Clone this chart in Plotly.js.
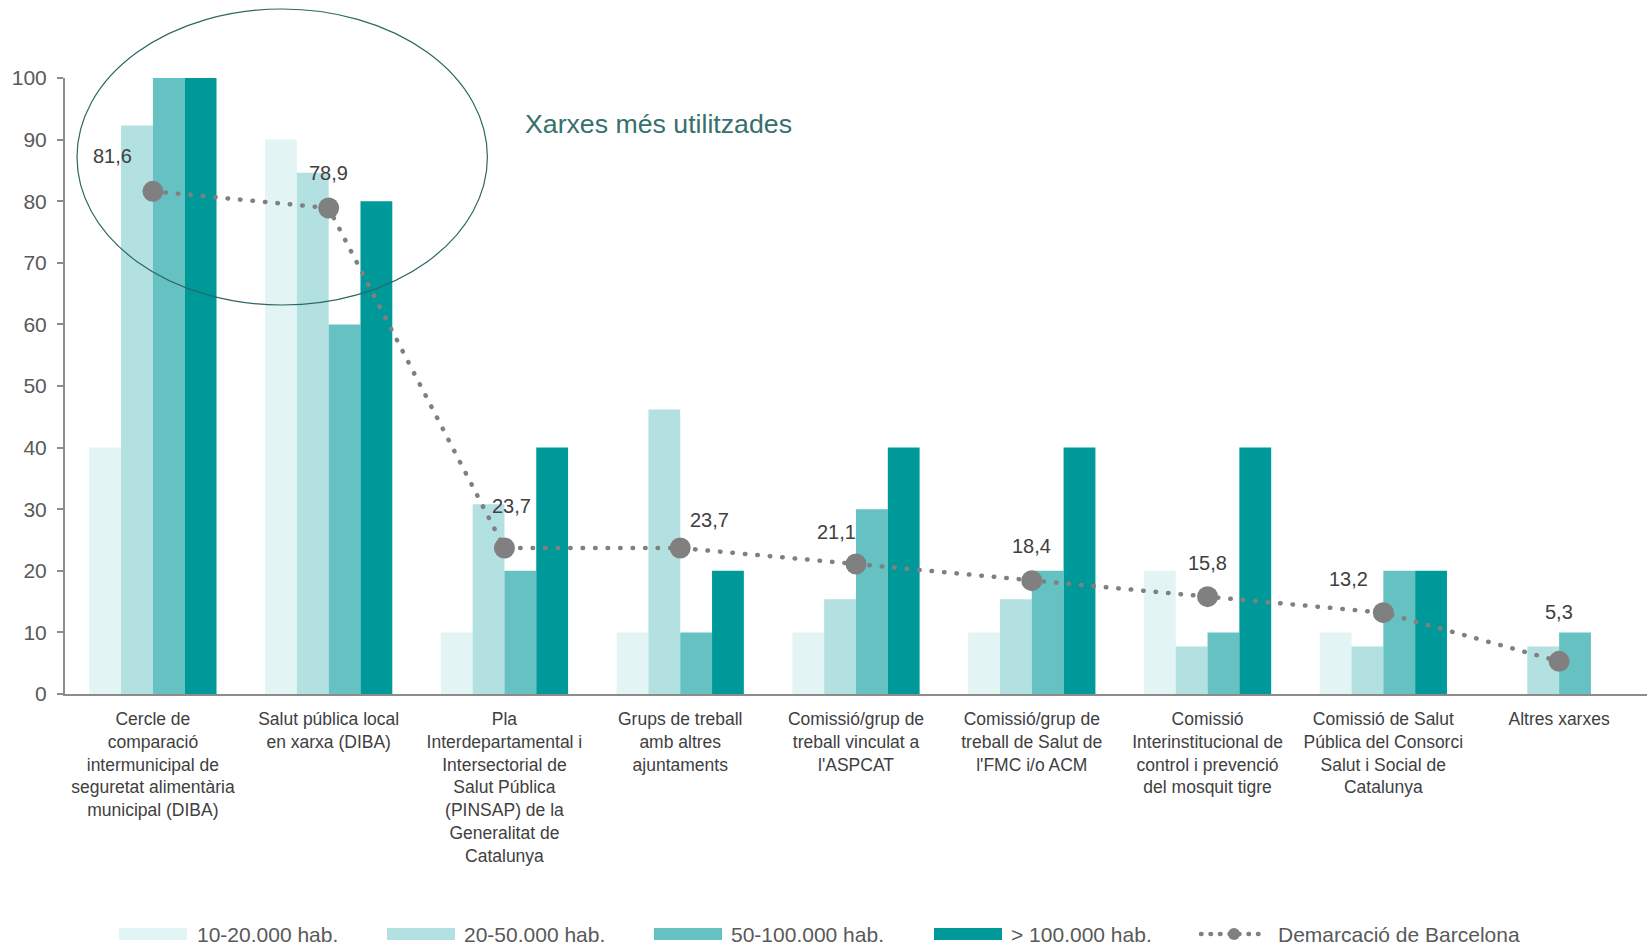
<!DOCTYPE html>
<html>
<head>
<meta charset="utf-8">
<script src="https://cdn.plot.ly/plotly-3.0.1.min.js"></script>
<style>
  html, body { margin: 0; padding: 0; background: #fff; }
  #chart { width: 1649px; height: 945px; }
  .scatterlayer .js-line { stroke-linecap: round; }
</style>
</head>
<body>
<div id="chart"></div>
<script>
// ---------------- DATA ----------------
const categories = [
  "Cercle de comparació intermunicipal de seguretat alimentària municipal (DIBA)",
  "Salut pública local en xarxa (DIBA)",
  "Pla Interdepartamental i Intersectorial de Salut Pública (PINSAP) de la Generalitat de Catalunya",
  "Grups de treball amb altres ajuntaments",
  "Comissió/grup de treball vinculat a l'ASPCAT",
  "Comissió/grup de treball de Salut de l'FMC i/o ACM",
  "Comissió Interinstitucional de control i prevenció del mosquit tigre",
  "Comissió de Salut Pública del Consorci Salut i Social de Catalunya",
  "Altres xarxes"
];
const tickLabels = [
  "Cercle de<br>comparació<br>intermunicipal de<br>seguretat alimentària<br>municipal (DIBA)",
  "Salut pública local<br>en xarxa (DIBA)",
  "Pla<br>Interdepartamental i<br>Intersectorial de<br>Salut Pública<br>(PINSAP) de la<br>Generalitat de<br>Catalunya",
  "Grups de treball<br>amb altres<br>ajuntaments",
  "Comissió/grup de<br>treball vinculat a<br>l'ASPCAT",
  "Comissió/grup de<br>treball de Salut de<br>l'FMC i/o ACM",
  "Comissió<br>Interinstitucional de<br>control i prevenció<br>del mosquit tigre",
  "Comissió de Salut<br>Pública del Consorci<br>Salut i Social de<br>Catalunya",
  "Altres xarxes"
];
const seriesNames = ["10-20.000 hab.", "20-50.000 hab.", "50-100.000 hab.", "> 100.000 hab."];
const hab10_20 = [40, 90, 10, 10, 10, 10, 20, 10, 0];
const hab20_50 = [92.3, 84.6, 30.8, 46.2, 15.4, 15.4, 7.7, 7.7, 7.7];
const hab50_100 = [100, 60, 20, 10, 30, 20, 10, 20, 10];
const hab100plus = [100, 80, 40, 20, 40, 40, 40, 20, 0];
const lineName = "Demarcació de Barcelona";
const demarcacio = [81.6, 78.9, 23.7, 23.7, 21.1, 18.4, 15.8, 13.2, 5.3];
const yTicks = [0, 10, 20, 30, 40, 50, 60, 70, 80, 90, 100];
const highlightText = "Xarxes més utilitzades";

// ---------------- STYLE ----------------
const barColors = ["#e3f4f4", "#b3e0e0", "#66c2c2", "#009999"];
const lineColor = "#808080";
const FONT = "Liberation Sans, Arial, sans-serif";
const M = { l: 65, r: 2, t: 78, b: 251 };
const W = 1649, H = 945;
const PW = W - M.l - M.r, PH = H - M.t - M.b;
const px2x = px => (px - M.l) / PW;
const px2y = py => (H - M.b - py) / PH;
// label offsets (pixels) for the line value labels
const labelShift = [[-40, 35], [0, 35], [7, 42], [29, 28], [-20, 32], [0, 35], [0, 34], [-35, 34], [0, 49]];

const seriesValues = [hab10_20, hab20_50, hab50_100, hab100plus];
const traces = seriesValues.map((vals, i) => ({
  type: "bar",
  name: seriesNames[i],
  x: categories,
  y: vals,
  marker: { color: barColors[i], line: { width: 0 } },
  hoverinfo: "x+y+name",
  showlegend: false
}));
traces.push({
  type: "scatter",
  mode: "lines+markers",
  name: lineName,
  x: categories,
  y: demarcacio,
  line: { color: lineColor, width: 4.5, dash: "0.5px,12px" },
  marker: { color: lineColor, size: 21 },
  showlegend: false
});

const annotations = demarcacio.map((v, i) => ({
  x: categories[i], y: v, xref: "x", yref: "y",
  text: v.toFixed(1).replace(".", ","),
  showarrow: false,
  xshift: labelShift[i][0], yshift: labelShift[i][1],
  font: { family: FONT, size: 20, color: "#404040" }
}));
annotations.push({
  xref: "paper", yref: "paper", x: px2x(523), y: px2y(124),
  xanchor: "left", yanchor: "middle", showarrow: false,
  text: highlightText,
  font: { family: FONT, size: 26.7, color: "#35716c" }
});

const shapes = [{
  type: "circle", xref: "paper", yref: "paper",
  x0: px2x(77), x1: px2x(487.4), y0: px2y(305), y1: px2y(9),
  line: { color: "#2e6663", width: 1.2 }, fillcolor: "rgba(0,0,0,0)"
}];

// custom legend (wide swatches like the reference)
const legendY = 934;
const swatchX = [119, 387, 654, 934];
const textX = [195, 462, 729, 1009];
seriesNames.forEach((n, i) => {
  shapes.push({
    type: "rect", xref: "paper", yref: "paper",
    x0: px2x(swatchX[i]), x1: px2x(swatchX[i] + 68),
    y0: px2y(legendY + 6), y1: px2y(legendY - 6),
    fillcolor: barColors[i], line: { width: 0 }
  });
  annotations.push({
    xref: "paper", yref: "paper", x: px2x(textX[i]), y: px2y(legendY),
    xanchor: "left", yanchor: "middle", showarrow: false, text: n,
    font: { family: FONT, size: 21, color: "#595959" }
  });
});
shapes.push({
  type: "line", xref: "paper", yref: "paper",
  x0: px2x(1201), x1: px2x(1267), y0: px2y(legendY), y1: px2y(legendY),
  line: { color: lineColor, width: 4.5, dash: "0.5px,9px" }
});
shapes.push({
  type: "circle", xref: "paper", yref: "paper",
  x0: px2x(1228), x1: px2x(1240), y0: px2y(legendY + 6), y1: px2y(legendY - 6),
  fillcolor: lineColor, line: { width: 0 }
});
annotations.push({
  xref: "paper", yref: "paper", x: px2x(1276), y: px2y(legendY),
  xanchor: "left", yanchor: "middle", showarrow: false, text: lineName,
  font: { family: FONT, size: 21, color: "#595959" }
});

const layout = {
  width: W, height: H,
  margin: M,
  paper_bgcolor: "#fff", plot_bgcolor: "#fff",
  font: { family: FONT, color: "#595959" },
  barmode: "group",
  bargap: 0.276,
  bargroupgap: 0,
  showlegend: false,
  xaxis: {
    type: "category",
    range: [-0.5, 8.5],
    tickmode: "array",
    tickvals: categories,
    ticktext: tickLabels,
    showline: true, linecolor: "#8c8c8c", linewidth: 2,
    ticks: "", showgrid: false, zeroline: false,
    tickfont: { family: FONT, size: 17.5, color: "#404040" },
    tickangle: 0,
    ticklabelstandoff: 8,
    fixedrange: true
  },
  yaxis: {
    range: [0, 100],
    tickmode: "array",
    tickvals: yTicks,
    showline: true, linecolor: "#8c8c8c", linewidth: 2,
    ticks: "outside", ticklen: 6, tickcolor: "#8c8c8c", tickwidth: 2,
    showgrid: false, zeroline: false,
    tickfont: { family: FONT, size: 21, color: "#595959" },
    ticklabelstandoff: 6,
    fixedrange: true
  },
  annotations: annotations,
  shapes: shapes
};

Plotly.newPlot("chart", traces, layout, { displayModeBar: false, staticPlot: true }).then(() => {
  document.querySelectorAll(".shapelayer path").forEach(p => p.style.strokeLinecap = "round");
});
</script>
</body>
</html>
